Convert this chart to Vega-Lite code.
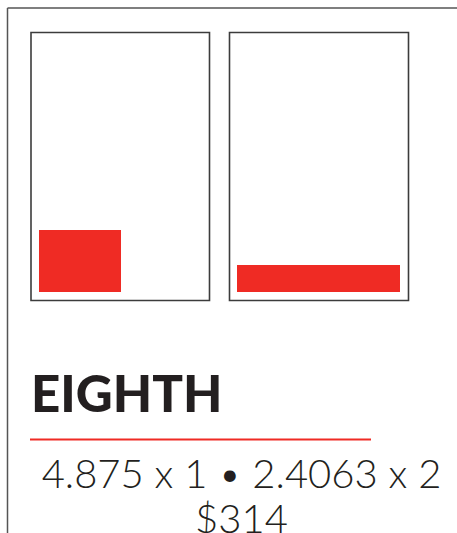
{
  "$schema": "https://vega.github.io/schema/vega-lite/v6.json",
  "width": 457,
  "height": 533,
  "padding": 0,
  "autosize": {"type": "none"},
  "background": "white",
  "config": {"view": {"stroke": null}},
  "datasets": {
    "frame": [
      {"x": 7.5, "y": 8, "x2": 457, "y2": 8},
      {"x": 7.5, "y": 8, "x2": 7.5, "y2": 533}
    ],
    "pages": [
      {"page": "left", "x": 31, "x2": 209.5, "y": 32.5, "y2": 300.5},
      {"page": "right", "x": 229.5, "x2": 408.5, "y": 32.5, "y2": 300.5}
    ],
    "ads": [
      {"ad": "2.4063 x 2", "x": 39, "x2": 121, "y": 230, "y2": 292},
      {"ad": "4.875 x 1", "x": 237, "x2": 400, "y": 265, "y2": 292}
    ],
    "rule": [
      {"x": 30, "x2": 371, "y": 439.5, "y2": 439.5}
    ],
    "title": [
      {"label": "EIGHTH", "x": 31, "y": 412}
    ],
    "info": [
      {"label": "4.875 x 1 • 2.4063 x 2", "x": 241.5, "y": 488},
      {"label": "$314", "x": 241.5, "y": 533}
    ]
  },
  "layer": [
    {
      "data": {"name": "frame"},
      "mark": {"type": "rule", "color": "#555555", "strokeWidth": 1.5},
      "encoding": {
        "x": {"field": "x", "type": "quantitative", "scale": {"domain": [0, 457], "nice": false, "zero": false}, "axis": null},
        "x2": {"field": "x2"},
        "y": {"field": "y", "type": "quantitative", "scale": {"domain": [533, 0], "nice": false, "zero": false}, "axis": null},
        "y2": {"field": "y2"}
      }
    },
    {
      "data": {"name": "pages"},
      "mark": {"type": "rect", "fill": "white", "stroke": "#3c3c3c", "strokeWidth": 1.6},
      "encoding": {
        "x": {"field": "x", "type": "quantitative"},
        "x2": {"field": "x2"},
        "y": {"field": "y", "type": "quantitative"},
        "y2": {"field": "y2"}
      }
    },
    {
      "data": {"name": "ads"},
      "mark": {"type": "rect", "fill": "#ef2b24", "stroke": null},
      "encoding": {
        "x": {"field": "x", "type": "quantitative"},
        "x2": {"field": "x2"},
        "y": {"field": "y", "type": "quantitative"},
        "y2": {"field": "y2"}
      }
    },
    {
      "data": {"name": "rule"},
      "mark": {"type": "rule", "color": "#ef2b24", "strokeWidth": 2},
      "encoding": {
        "x": {"field": "x", "type": "quantitative"},
        "x2": {"field": "x2"},
        "y": {"field": "y", "type": "quantitative"},
        "y2": {"field": "y2"}
      }
    },
    {
      "data": {"name": "title"},
      "mark": {"type": "text", "font": "Lato", "fontWeight": 900, "fontSize": 51, "color": "#231f20", "align": "left", "baseline": "alphabetic"},
      "encoding": {
        "x": {"field": "x", "type": "quantitative"},
        "y": {"field": "y", "type": "quantitative"},
        "text": {"field": "label"}
      }
    },
    {
      "data": {"name": "info"},
      "mark": {"type": "text", "font": "Lato", "fontWeight": 300, "fontSize": 40, "color": "#231f20", "align": "center", "baseline": "alphabetic"},
      "encoding": {
        "x": {"field": "x", "type": "quantitative"},
        "y": {"field": "y", "type": "quantitative"},
        "text": {"field": "label"}
      }
    }
  ]
}
